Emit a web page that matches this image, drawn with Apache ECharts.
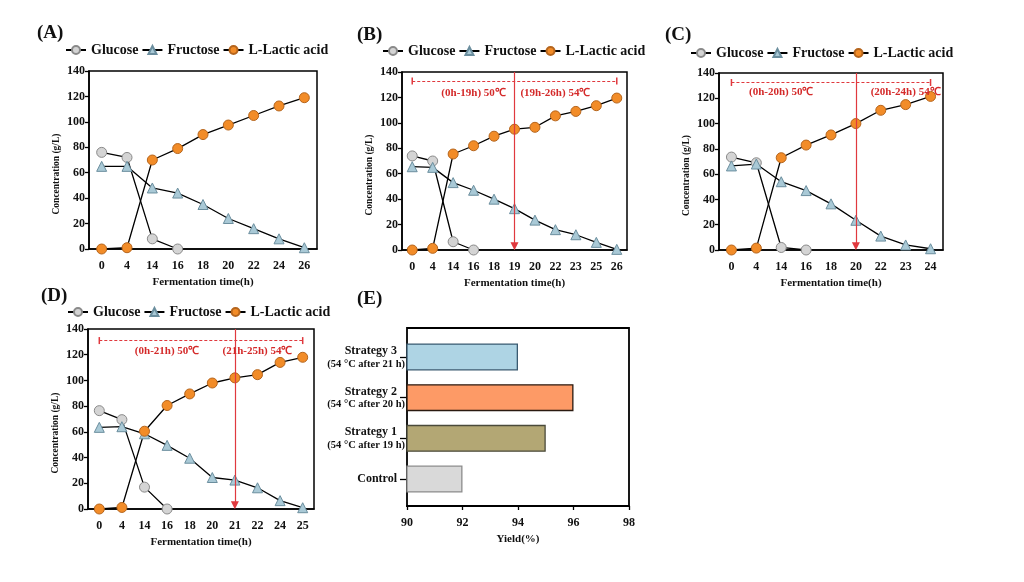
<!DOCTYPE html>
<html>
<head>
<meta charset="utf-8">
<script src="https://cdn.jsdelivr.net/npm/echarts@6/dist/echarts.min.js"></script>
<style>
  html, body { margin: 0; padding: 0; background: #fff; }
  #main { width: 1024px; height: 582px; }
</style>
</head>
<body>
<div id="main"></div>
<script>
// fermentation time points (h) per panel
const timesA = ['0', '4', '14', '16', '18', '20', '22', '24', '26'];
const timesB = ['0', '4', '14', '16', '18', '19', '20', '22', '23', '25', '26'];
const timesC = ['0', '4', '14', '16', '18', '20', '22', '23', '24'];
const timesD = ['0', '4', '14', '16', '18', '20', '21', '22', '24', '25'];

// concentrations (g/L)
const glucoseA = [76, 72, 8, 0];
const fructoseA = [65, 65, 48, 44, 35, 24, 16, 8, 1];
const lacticA = [0, 1, 70, 79, 90, 97.5, 105, 112.5, 119];

const glucoseB = [74, 70, 6.5, 0];
const fructoseB = [65.5, 65, 53, 47, 40, 32.5, 23.5, 16, 12, 6, 0.5];
const lacticB = [0, 1.3, 75.5, 82, 89.5, 95, 96.5, 105.5, 109, 113.5, 119.5];

const glucoseC = [73.5, 69, 2, 0];
const fructoseC = [66.5, 68, 54, 47, 36.5, 23.5, 11, 4, 1];
const lacticC = [0, 1.5, 73, 83, 91, 100, 110.5, 115, 121.5];

const glucoseD = [76.5, 69.5, 17, 0];
const fructoseD = [63.5, 64, 58.5, 49.5, 39.5, 24.5, 22.5, 16.5, 6.5, 1];
const lacticD = [0, 1.2, 60.5, 80.5, 89.5, 98, 102, 104.5, 114, 118];

// panel E
const yieldCats = ['Control', 'Strategy 1', 'Strategy 2', 'Strategy 3'];
const yieldNotes = ['', '(54 °C after 19 h)', '(54 °C after 20 h)', '(54 °C after 21 h)'];
const yieldValues = [92, 95, 96, 94];
const yieldColors = ['#d9d9d9', '#b3a774', '#fd9a66', '#aed4e4'];
const yieldBorders = ['#8c8c8c', '#4a4a3a', '#2a1a10', '#3a5a70'];

const seriesNames = ['Glucose', 'Fructose', 'L-Lactic acid'];

const FONT = 'Liberation Serif';
const RED_LINE = '#e0393e';
const RED_TEXT = '#d42a2a';

const panels = [
  { key: '(A)', times: timesA, g: glucoseA, f: fructoseA, l: lacticA,
    grid: { left: 89, top: 71, width: 228, height: 178 },
    legend: { left: 65, top: 43 }, label: { left: 37, top: 24 } },
  { key: '(B)', times: timesB, g: glucoseB, f: fructoseB, l: lacticB,
    grid: { left: 402, top: 72, width: 225, height: 178 },
    legend: { left: 382, top: 44 }, label: { left: 357, top: 26 },
    mark: { dash: 133, arrow: 5, texts: [['(0h-19h) 50℃', 2.93, 123.5], ['(19h-26h) 54℃', 7.37, 123.5]] } },
  { key: '(C)', times: timesC, g: glucoseC, f: fructoseC, l: lacticC,
    grid: { left: 719, top: 73, width: 224, height: 177 },
    legend: { left: 690, top: 46 }, label: { left: 665, top: 26 },
    mark: { dash: 132.5, arrow: 5, texts: [['(0h-20h) 50℃', 2.49, 124.5], ['(20h-24h) 54℃', 6.63, 124.5]] } },
  { key: '(D)', times: timesD, g: glucoseD, f: fructoseD, l: lacticD,
    grid: { left: 88, top: 329, width: 226, height: 180 },
    legend: { left: 67, top: 305 }, label: { left: 41, top: 287 },
    mark: { dash: 131, arrow: 6, texts: [['(0h-21h) 50℃', 3.27, 123], ['(21h-25h) 54℃', 7.48, 123]] } }
];

const txt = { fontFamily: FONT, fontWeight: 'bold', color: '#111' };

const grids = [], xAxes = [], yAxes = [], series = [], legends = [], titles = [];

panels.forEach((p, i) => {
  grids.push(Object.assign({ show: true, borderColor: '#000', borderWidth: 1.5 }, p.grid));
  xAxes.push({
    type: 'category', gridIndex: i, data: p.times,
    name: 'Fermentation time(h)', nameLocation: 'middle', nameGap: 28,
    nameTextStyle: Object.assign({ fontSize: 11 }, txt),
    axisLine: { lineStyle: { color: '#000', width: 1.5 } },
    axisTick: { alignWithLabel: true, length: 4, lineStyle: { color: '#000', width: 1.3 } },
    axisLabel: Object.assign({ fontSize: 12, margin: 11 }, txt)
  });
  yAxes.push({
    type: 'value', gridIndex: i, min: 0, max: 140, interval: 20,
    name: 'Concentration (g/L)', nameLocation: 'middle', nameGap: 27,
    nameTextStyle: Object.assign({ fontSize: 9.5, padding: [0, 28, 0, 0] }, txt),
    axisLine: { show: true, lineStyle: { color: '#000', width: 1.5 } },
    axisTick: { show: true, length: 4, lineStyle: { color: '#000', width: 1.3 } },
    axisLabel: Object.assign({ fontSize: 12, margin: 4 }, txt),
    splitLine: { show: false }
  });
  const line = { color: '#000', width: 1.3 };
  series.push({
    name: 'Glucose', type: 'line', xAxisIndex: i, yAxisIndex: i, data: p.g,
    symbol: 'circle', symbolSize: 10, lineStyle: line,
    itemStyle: { color: '#d4d4d4', borderColor: '#8a8a8a', borderWidth: 1 }
  });
  series.push({
    name: 'Fructose', type: 'line', xAxisIndex: i, yAxisIndex: i, data: p.f,
    symbol: 'triangle', symbolSize: 10, lineStyle: line,
    itemStyle: { color: '#a9c9d6', borderColor: '#6b8e9e', borderWidth: 1 }
  });
  const lac = {
    name: 'L-Lactic acid', type: 'line', xAxisIndex: i, yAxisIndex: i, data: p.l,
    symbol: 'circle', symbolSize: 10, lineStyle: line,
    itemStyle: { color: '#f28c28', borderColor: '#b5651d', borderWidth: 1 }
  };
  if (p.mark) {
    const last = p.times.length - 1;
    const cap = { symbol: 'rect', symbolSize: [7, 1.5] };
    lac.markLine = {
      silent: true, animation: false, label: { show: false },
      data: [
        [Object.assign({ coord: [0, p.mark.dash], lineStyle: { color: RED_LINE, type: [3, 2], width: 1.2 } }, cap),
         Object.assign({ coord: [last, p.mark.dash] }, cap)],
        [{ coord: [p.mark.arrow, 140], symbol: 'none', lineStyle: { color: RED_LINE, type: 'solid', width: 1.2 } },
         { coord: [p.mark.arrow, 3], symbol: 'triangle', symbolSize: [8, 8] }]
      ],
      itemStyle: { color: RED_LINE }
    };
    lac.markPoint = {
      silent: true, animation: false,
      symbol: 'rect', symbolSize: 1, itemStyle: { color: 'rgba(0,0,0,0)' },
      label: { show: true, position: 'inside', formatter: '{b}', fontFamily: FONT, fontWeight: 'bold', fontSize: 11, color: RED_TEXT },
      data: p.mark.texts.map(t => ({ name: t[0], coord: [t[1], t[2]] }))
    };
  }
  series.push(lac);
  legends.push(Object.assign({
    data: seriesNames, padding: 0, itemWidth: 20, itemHeight: 10, itemGap: 3,
    selectedMode: false,
    textStyle: Object.assign({ fontSize: 14 }, txt)
  }, p.legend));
  titles.push(Object.assign({ text: p.key, padding: 0,
    textStyle: Object.assign({ fontSize: 19 }, txt) }, p.label));
});

// panel E: bar grid (4) inside a framed grid (5)
grids.push({ left: 407, top: 336.6, width: 222, height: 162.8 });
grids.push({ show: true, left: 407, top: 328, width: 222, height: 178, borderColor: '#000', borderWidth: 1.8 });
xAxes.push({ type: 'value', gridIndex: 4, min: 90, max: 98, show: false });
xAxes.push({
  type: 'value', gridIndex: 5, min: 90, max: 98, interval: 2,
  name: 'Yield(%)', nameLocation: 'middle', nameGap: 28,
  nameTextStyle: Object.assign({ fontSize: 11 }, txt),
  axisLine: { show: true, lineStyle: { color: '#000', width: 1.8 } },
  axisTick: { show: true, length: 4, lineStyle: { color: '#000', width: 1.3 } },
  axisLabel: Object.assign({ fontSize: 12, margin: 11 }, txt),
  splitLine: { show: false }
});
yAxes.push({
  type: 'category', gridIndex: 4, data: yieldCats,
  axisLine: { show: false },
  axisTick: { show: true, length: 7, alignWithLabel: true, lineStyle: { color: '#000', width: 1.3 } },
  axisLabel: {
    margin: 2, align: 'right',
    formatter: (v, i) => '{a|' + v + '}' + (yieldNotes[i] ? '\n{b|' + yieldNotes[i] + '}' : ''),
    rich: {
      a: { fontFamily: FONT, fontWeight: 'bold', fontSize: 12, color: '#111', padding: [0, 8, 0, 0], lineHeight: 14 },
      b: { fontFamily: FONT, fontWeight: 'bold', fontSize: 10.5, color: '#111', lineHeight: 12 }
    }
  }
});
yAxes.push({ type: 'value', gridIndex: 5, show: false });
series.push({
  type: 'bar', xAxisIndex: 4, yAxisIndex: 4, barWidth: 27,
  data: yieldValues.map((v, i) => ({
    value: v,
    itemStyle: { color: yieldColors[i], borderColor: yieldBorders[i], borderWidth: 1.3 }
  }))
});
titles.push({ text: '(E)', left: 357, top: 290, padding: 0, textStyle: Object.assign({ fontSize: 19 }, txt) });

const chart = echarts.init(document.getElementById('main'), null, { renderer: 'canvas' });
chart.setOption({
  animation: false,
  backgroundColor: '#fff',
  title: titles,
  legend: legends,
  grid: grids,
  xAxis: xAxes,
  yAxis: yAxes,
  series: series
});
</script>
</body>
</html>
